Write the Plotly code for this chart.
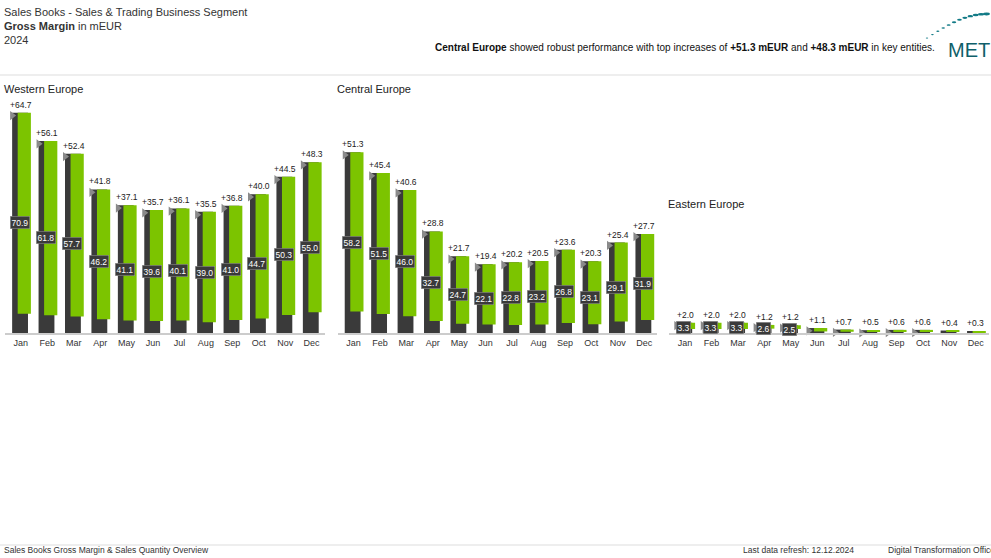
import plotly.graph_objects as go
import math

months = ["Jan","Feb","Mar","Apr","May","Jun","Jul","Aug","Sep","Oct","Nov","Dec"]
regions = ["Western Europe", "Central Europe", "Eastern Europe"]
w_total = [70.9,61.8,57.7,46.2,41.1,39.6,40.1,39.0,41.0,44.7,50.3,55.0]
w_delta = [64.7,56.1,52.4,41.8,37.1,35.7,36.1,35.5,36.8,40.0,44.5,48.3]
c_total = [58.2,51.5,46.0,32.7,24.7,22.1,22.8,23.2,26.8,23.1,29.1,31.9]
c_delta = [51.3,45.4,40.6,28.8,21.7,19.4,20.2,20.5,23.6,20.3,25.4,27.7]
e_total = [3.3,3.3,3.3,2.6,2.5,1.6,1.1,0.9,1.0,1.0,0.8,0.6]
e_delta = [2.0,2.0,2.0,1.2,1.2,1.1,0.7,0.5,0.6,0.6,0.4,0.3]
totals = [w_total, c_total, e_total]
deltas = [w_delta, c_delta, e_delta]
show_total_label = [[True]*12, [True]*12, [True]*5 + [False]*7]

GREEN = "#7CC400"
DARK = "#3A3A3A"
domains = [[0.0, 0.325], [0.338, 0.663], [0.675, 1.0]]
title_y = [1.047, 1.047, 0.554]

fig = go.Figure()
x = list(range(12))
for i in range(3):
    ax = "" if i == 0 else str(i + 1)
    xa, ya = "x" + ax, "y" + ax
    tot, dl = totals[i], deltas[i]
    fig.add_trace(go.Bar(x=x, y=tot, width=0.6, offset=-0.33, marker_color=DARK,
                         marker_line_width=0, xaxis=xa, yaxis=ya, showlegend=False))
    fig.add_trace(go.Bar(x=x, y=dl, base=[t - d for t, d in zip(tot, dl)], width=0.5,
                         offset=-0.12, marker_color=GREEN, marker_line_width=0,
                         xaxis=xa, yaxis=ya, showlegend=False))
    fig.add_trace(go.Scatter(x=[v - 0.33 for v in x], y=[t - 0.9 for t in tot], mode="markers",
                             marker=dict(symbol="triangle-right", size=8, color="#8a8a8a"),
                             xaxis=xa, yaxis=ya, showlegend=False, cliponaxis=False))
    for j in range(12):
        fig.add_annotation(x=j, y=tot[j], xref=xa, yref=ya, text="+%.1f" % dl[j],
                           showarrow=False, yanchor="bottom", yshift=1,
                           font=dict(size=8.5, color="#222"))
        if show_total_label[i][j]:
            fig.add_annotation(x=j - 0.05, y=tot[j] / 2, xref=xa, yref=ya,
                               text="%.1f" % tot[j], showarrow=False,
                               font=dict(size=8.5, color="white"), bgcolor=DARK,
                               bordercolor="#999", borderwidth=0.5, borderpad=1)
    fig.add_annotation(x=domains[i][0] - 0.003, y=title_y[i], xref="paper", yref="paper",
                       text=regions[i], showarrow=False, xanchor="left", yanchor="middle",
                       font=dict(size=11, color="#222"))
    xkw = dict(domain=domains[i], tickvals=x, ticktext=months, range=[-0.6, 11.5],
               showline=True, linecolor="#cccccc", linewidth=2, ticks="",
               tickfont=dict(size=9, color="#333"), showgrid=False, zeroline=False)
    ykw = dict(range=[0, 75], visible=False, showgrid=False)
    if i > 0:
        ykw["anchor"] = "x" + ax
        xkw["anchor"] = "y" + ax
    fig.layout["xaxis" + ax] = xkw
    fig.layout["yaxis" + ax] = ykw

def top(txt, px, x=-0.003, xanchor="left", size=11, color="#333"):
    fig.add_annotation(x=x, y=(333 - px) / 233, xref="paper", yref="paper", text=txt,
                       showarrow=False, xanchor=xanchor, yanchor="middle",
                       font=dict(size=size, color=color))
top("Sales Books - Sales & Trading Business Segment", 12)
top("<b>Gross Margin</b> in mEUR", 26)
top("2024", 40)
top("<b>Central Europe</b> showed robust performance with top increases of <b>+51.3 mEUR</b> and <b>+48.3 mEUR</b> in key entities.",
    47, x=0.947, xanchor="right", size=10, color="#111")
top("MET", 50, x=1.003, xanchor="right", size=20, color="#0f5f6a")
top("Sales Books Gross Margin & Sales Quantity Overview", 550, size=8.5)
top("Last data refresh: 12.12.2024", 550, x=0.865, xanchor="right", size=8.5)
top("Digital Transformation Office", 550, x=0.895, xanchor="left", size=8.5)

for k in range(12):
    xv = 0.937 + 0.0055 * k
    yy = 38 - 24 * math.sin(k / 11 * math.pi / 2)
    r = 0.0012 + 0.0002 * k
    fig.add_shape(type="circle", xref="paper", yref="paper",
                  x0=xv - r, x1=xv + r, y0=(333 - yy) / 233 - r * 1.8, y1=(333 - yy) / 233 + r * 1.8,
                  fillcolor="#127a86", line_width=0)

for py in (75, 545):
    fig.add_shape(type="line", xref="paper", yref="paper", x0=-0.01, x1=1.01,
                  y0=(333 - py) / 233, y1=(333 - py) / 233, line=dict(color="#dddddd", width=1))

fig.update_layout(width=991, height=558, margin=dict(l=5, r=2, t=100, b=225),
                  paper_bgcolor="white", plot_bgcolor="white", barmode="overlay",
                  font=dict(family="Liberation Sans, Arial"))
fig.write_html("out.html", config={"displayModeBar": False})
with open("out.html") as f:
    html = f.read()
html = html.replace("<body>", "<body style=\"margin:0;overflow:hidden\">", 1)
with open("out.html", "w") as f:
    f.write(html)
